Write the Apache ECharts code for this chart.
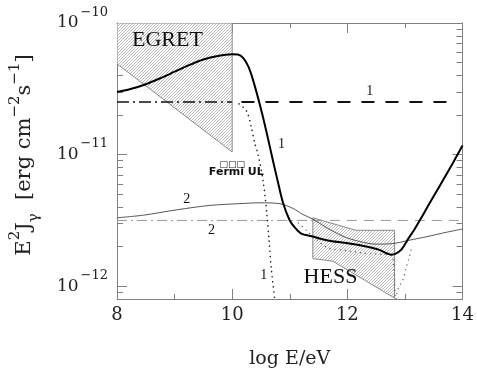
<!DOCTYPE html>
<html><head><meta charset="utf-8">
<script src="https://cdn.jsdelivr.net/npm/echarts@6/dist/echarts.min.js"></script>
<style>html,body{margin:0;padding:0;background:#fff}#c{width:477px;height:374px}</style>
</head><body><div id="c"></div>
<script>
// x = log10(E/eV); y = log10(E^2 J_gamma / (erg cm^-2 s^-1))
const xMin = 8, xMax = 14;
const xMajorTicks = [8, 10, 12, 14];
const yMinValue = 8e-13, yMaxValue = 1e-10;
const yMajorExponents = [-12, -11, -10];

// model 1 (thick solid)
const model1SolidX = [8.0, 8.25, 8.5, 8.75, 9.0, 9.25, 9.5, 9.75, 10.0, 10.1, 10.19, 10.28, 10.36, 10.48, 10.6, 10.71, 10.8, 10.885, 11.0, 11.1, 11.2, 11.38, 11.66, 11.95, 12.24, 12.53, 12.76, 12.85, 12.94, 13.05, 13.17, 13.31, 13.48, 13.66, 13.83, 14.0];
const model1SolidY = [-10.525, -10.5, -10.465, -10.42, -10.37, -10.32, -10.277, -10.25, -10.238, -10.24, -10.265, -10.33, -10.43, -10.62, -10.836, -11.05, -11.22, -11.37, -11.5, -11.56, -11.6, -11.62, -11.652, -11.67, -11.69, -11.72, -11.76, -11.75, -11.72, -11.644, -11.565, -11.46, -11.33, -11.195, -11.065, -10.93];
// model 1 flat (dash-dot, then dashed)
const model1FlatLeftX = [8.0, 10.0];
const model1FlatLeftY = [-10.6, -10.6];
const model1FlatRightX = [10.16, 13.87];
const model1FlatRightY = [-10.6, -10.6];
// model 1 dotted (steep cut-off)
const model1DotX = [10.12, 10.25, 10.335, 10.39, 10.45, 10.54, 10.6, 10.64, 10.68, 10.74];
const model1DotY = [-10.615, -10.67, -10.795, -10.91, -11.0, -11.21, -11.44, -11.65, -11.87, -12.1];
// model 1 dotted (high energy branch)
const model1DotHighX = [11.15, 11.3, 11.45, 11.66, 12.0, 12.24, 12.5, 12.76, 12.81, 12.84, 12.88, 12.965, 13.02, 13.08, 13.12];
const model1DotHighY = [-11.52, -11.58, -11.64, -11.707, -11.73, -11.745, -11.755, -11.765, -11.9, -12.1, -12.02, -11.95, -11.86, -11.77, -11.7];
// model 2 (thin solid)
const model2SolidX = [8.0, 8.46, 9.03, 9.61, 10.19, 10.48, 10.83, 11.06, 11.23, 11.4, 11.64, 11.92, 12.21, 12.5, 12.79, 13.08, 13.37, 13.72, 14.0];
const model2SolidY = [-11.48, -11.46, -11.42, -11.386, -11.371, -11.366, -11.373, -11.41, -11.455, -11.49, -11.555, -11.62, -11.66, -11.68, -11.676, -11.65, -11.624, -11.59, -11.565];
// model 2 flat (gray dash-dot, then dashed)
const model2FlatLeftX = [8.0, 11.4];
const model2FlatLeftY = [-11.5, -11.5];
const model2FlatRightX = [11.4, 14.0];
const model2FlatRightY = [-11.5, -11.5];
// EGRET and HESS bands
const egretX = [8.0, 10.0, 10.0, 8.0];
const egretY = [-10.0, -10.0, -10.98, -10.31];
const hessX = [11.4, 12.15, 12.82, 12.82, 11.75, 11.4];
const hessY = [-11.48, -11.575, -11.575, -12.09, -11.81, -11.79];
// annotations
const noteText = ['EGRET', 'HESS', '1', '1', '1', '2', '2', 'Fermi UL', '\u25A1\u25A1\u25A1'];
const noteX = [8.876, 11.707, 12.387, 10.856, 10.549, 9.209, 9.642, 10.072, 10.003];
const noteY = [-10.133, -11.934, -10.52, -10.924, -11.919, -11.336, -11.576, -11.136, -11.08];
const noteKind = ['big', 'big', 'num', 'num', 'num', 'num', 'num', 'fermi', 'box'];

const yMin = Math.log10(yMinValue), yMax = Math.log10(yMaxValue);
const minorY = [];
for (let n = -13; n <= -11; n++) for (let k = 2; k <= 9; k++) {
  const v = n + Math.log10(k);
  if (v > yMin + 1e-6 && v < yMax - 1e-6) minorY.push(v);
}

const hc = document.createElement('canvas'); hc.width = 3; hc.height = 3;
const g = hc.getContext('2d');
g.fillStyle = '#ffffff'; g.fillRect(0, 0, 3, 3);
g.fillStyle = '#b8b8b8';
for (let i = 0; i < 3; i++) g.fillRect(i, 2 - i, 1, 1);
const hatch = { image: hc, repeat: 'repeat' };

const axisGray = '#808080';
const serif = '"DejaVu Serif", serif';
const fontStyles = {
  big: '22px "Liberation Serif", serif',
  num: '14px "Liberation Serif", serif',
  fermi: 'bold 11px "DejaVu Sans", sans-serif',
  box: '9px "DejaVu Sans", sans-serif'
};

function pairs(xs, ys) { return xs.map((x, i) => [x, ys[i]]); }
function line(xs, ys, ls, smooth) {
  return { type: 'line', data: pairs(xs, ys), symbol: 'none', smooth: smooth ? 0.3 : false,
    lineStyle: ls, z: 5, clip: true, silent: true };
}
function band(xs, ys) {
  return { type: 'custom', clip: true, z: 1, silent: true, data: [[xs[0], ys[0]]],
    renderItem: function (params, api) {
      const pts = xs.map((x, i) => api.coord([x, ys[i]]));
      return { type: 'polygon', shape: { points: pts }, style: { fill: hatch, stroke: '#8a8a8a', lineWidth: 1 } };
    } };
}

const xBase = { type: 'value', min: xMin, max: xMax, splitLine: { show: false } };
const yBase = { type: 'value', min: yMin, max: yMax, splitLine: { show: false } };

const option = {
  animation: false,
  backgroundColor: '#ffffff',
  grid: { left: 117, right: 14, top: 23, bottom: 75, containLabel: false },
  xAxis: [
    Object.assign({}, xBase, { position: 'bottom', interval: 2,
      axisLine: { show: true, lineStyle: { color: axisGray, width: 1 } },
      axisTick: { show: true, inside: true, length: 10, lineStyle: { color: axisGray } },
      axisLabel: { show: true, margin: 7, color: '#222', fontFamily: serif, fontSize: 18,
        customValues: xMajorTicks },
      name: 'log E/eV', nameLocation: 'middle', nameGap: 51,
      nameTextStyle: { fontFamily: serif, fontSize: 19, color: '#222' } }),
    Object.assign({}, xBase, { position: 'bottom', interval: 1,
      axisLine: { show: false }, axisTick: { show: true, inside: true, length: 5, lineStyle: { color: axisGray } },
      axisLabel: { show: false } }),
    Object.assign({}, xBase, { position: 'top', interval: 2,
      axisLine: { show: true, lineStyle: { color: axisGray, width: 1 } },
      axisTick: { show: true, inside: true, length: 10, lineStyle: { color: axisGray } },
      axisLabel: { show: false } }),
    Object.assign({}, xBase, { position: 'top', interval: 1,
      axisLine: { show: false }, axisTick: { show: true, inside: true, length: 5, lineStyle: { color: axisGray } },
      axisLabel: { show: false } })
  ],
  yAxis: [
    Object.assign({}, yBase, { position: 'left',
      axisLine: { show: true, lineStyle: { color: axisGray, width: 1 } },
      axisTick: { show: true, inside: true, length: 10, customValues: yMajorExponents, lineStyle: { color: axisGray } },
      axisLabel: { show: true, margin: 9, customValues: yMajorExponents,
        formatter: v => '{b|10}{s|\u2212' + Math.abs(Math.round(v)) + '}',
        rich: {
          b: { fontFamily: serif, fontSize: 17, lineHeight: 34, color: '#222', verticalAlign: 'middle' },
          s: { fontFamily: serif, fontSize: 13, lineHeight: 13, color: '#222', verticalAlign: 'top', padding: [0, 0, 0, 2] }
        } } }),
    Object.assign({}, yBase, { position: 'left',
      axisLine: { show: false },
      axisTick: { show: true, inside: true, length: 6, customValues: minorY, lineStyle: { color: axisGray } },
      axisLabel: { show: false } }),
    Object.assign({}, yBase, { position: 'right',
      axisLine: { show: true, lineStyle: { color: axisGray, width: 1 } },
      axisTick: { show: true, inside: true, length: 10, customValues: yMajorExponents, lineStyle: { color: axisGray } },
      axisLabel: { show: false } }),
    Object.assign({}, yBase, { position: 'right',
      axisLine: { show: false },
      axisTick: { show: true, inside: true, length: 6, customValues: minorY, lineStyle: { color: axisGray } },
      axisLabel: { show: false } })
  ],
  graphic: [{
    type: 'text', x: 25, y: 155, rotation: Math.PI / 2, z: 10,
    style: {
      text: '{m|E}{p|2}{m|J}{d|\u03B3}{m|  [erg cm}{p|\u22122}{m|s}{p|\u22121}{m|]}',
      align: 'center', verticalAlign: 'middle',
      rich: {
        m: { fontFamily: serif, fontSize: 21, lineHeight: 34, fill: '#222', verticalAlign: 'middle' },
        p: { fontFamily: serif, fontSize: 15, lineHeight: 15, fill: '#222', verticalAlign: 'top' },
        d: { fontFamily: serif, fontSize: 15, lineHeight: 15, fill: '#222', verticalAlign: 'bottom' }
      }
    }
  }],
  series: [
    band(egretX, egretY),
    band(hessX, hessY),
    line(model2FlatLeftX, model2FlatLeftY, { color: '#999999', width: 1, type: [10, 4, 2, 4] }),
    line(model2FlatRightX, model2FlatRightY, { color: '#999999', width: 1, type: [10, 7] }),
    line(model2SolidX, model2SolidY, { color: '#555555', width: 1 }, true),
    line(model1FlatLeftX, model1FlatLeftY, { color: '#111111', width: 1.5, type: [12, 4, 2, 4] }),
    line(model1FlatRightX, model1FlatRightY, { color: '#111111', width: 2, type: [13, 11] }),
    line(model1DotX, model1DotY, { color: '#222222', width: 1.6, type: [0.1, 5], cap: 'round' }, true),
    line(model1DotHighX, model1DotHighY, { color: '#555555', width: 1.3, type: [0.1, 5], cap: 'round' }, true),
    line(model1SolidX, model1SolidY, { color: '#000000', width: 2 }, true),
    { type: 'custom', clip: false, z: 8, silent: true,
      data: noteText.map((t, i) => [noteX[i], noteY[i], i]),
      renderItem: function (params, api) {
        const i = api.value(2);
        const p = api.coord([api.value(0), api.value(1)]);
        return { type: 'text', x: p[0], y: p[1],
          style: { text: noteText[i], font: fontStyles[noteKind[i]], fill: '#111', align: 'center', verticalAlign: 'middle' } };
      } }
  ]
};
echarts.init(document.getElementById('c'), null, { renderer: 'canvas' }).setOption(option);
</script></body></html>
